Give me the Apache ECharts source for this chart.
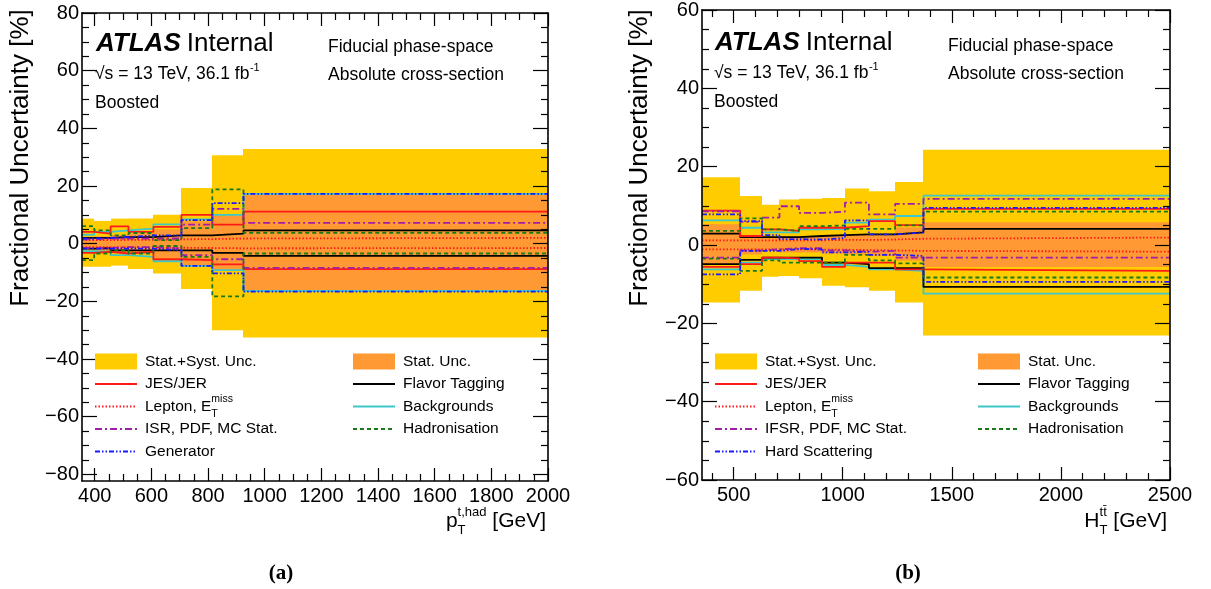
<!DOCTYPE html>
<html>
<head>
<meta charset="utf-8">
<title>Fractional uncertainties, boosted selection</title>
<script src="https://cdn.jsdelivr.net/npm/echarts@6.0.0/dist/echarts.min.js"></script>
<style>
html, body { margin: 0; padding: 0; background: #ffffff; }
#chart { width: 1211px; height: 589px; }
</style>
</head>
<body>
<div id="chart"></div>
<script>
// ---------------- panel (a): hadronic top pT ----------------
const edgesA = [355, 398, 456, 519, 607, 706, 815, 925, 2000];
const totalUpA = [8.7, 7.9, 8.7, 8.7, 10.0, 19.3, 30.7, 32.8];
const totalDownA = [-8.0, -8.0, -7.6, -8.8, -10.3, -15.7, -30.0, -32.5];
const statUpA = [2.0, 2.5, 3.0, 3.5, 5.0, 7.8, 9.8, 17.3];
const statDownA = [-2.0, -2.5, -3.0, -3.5, -5.0, -7.8, -9.2, -16.6];
const jesUpA = [4.1, 3.5, 6.0, 4.1, 5.8, 10.0, 6.6, 11.1];
const jesDownA = [-3.2, -2.8, -3.4, -2.8, -5.4, -5.7, -7.2, -8.8];
const lepUpA = [1.2, 1.2, 1.3, 1.3, 1.5, 1.6, 1.8, 2.0];
const lepDownA = [-1.2, -1.2, -1.3, -1.3, -1.4, -1.5, -1.6, -1.5];
const isrUpA = [1.5, 1.8, 1.8, 1.8, 1.8, 6.6, 12.1, 7.2];
const isrDownA = [-1.5, -1.5, -1.2, -1.2, -1.7, -4.0, -5.4, -8.4];
const genUpA = [1.8, 2.0, 2.3, 2.9, 2.9, 8.2, 14.1, 17.3];
const genDownA = [-1.7, -1.7, -1.7, -1.7, -2.3, -7.7, -10.3, -16.6];
const flavUpA = [2.0, 2.0, 2.3, 2.3, 2.9, 2.9, 3.5, 4.6];
const flavDownA = [-1.7, -1.5, -2.3, -2.3, -2.3, -2.3, -3.2, -4.2];
const bkgUpA = [3.1, 4.1, 4.6, 5.2, 6.7, 8.4, 10.0, 17.3];
const bkgDownA = [-2.6, -2.8, -4.0, -4.6, -6.1, -7.7, -9.2, -16.4];
const hadUpA = [6.1, 4.6, 2.9, 3.7, 1.2, 5.4, 18.8, 3.8];
const hadDownA = [-5.7, -3.4, -2.3, -3.4, -0.8, -4.6, -18.3, -3.4];

const xTicksA = [400, 600, 800, 1000, 1200, 1400, 1600, 1800, 2000];
const yTicksA = [-80, -60, -40, -20, 0, 20, 40, 60, 80];

// ---------------- panel (b): HT of the ttbar system ----------------
const edgesB = [355, 530, 630, 710, 800, 905, 1010, 1120, 1240, 1370, 2500];
const totalUpB = [17.3, 12.5, 10.3, 11.6, 11.8, 12.0, 14.4, 13.7, 16.1, 24.3];
const totalDownB = [-14.7, -11.7, -8.1, -7.9, -8.5, -10.4, -10.8, -11.7, -14.7, -23.1];
const statUpB = [5.3, 2.5, 2.0, 2.3, 2.3, 2.5, 2.7, 2.7, 4.5, 5.8];
const statDownB = [-4.9, -2.4, -1.5, -1.9, -1.9, -2.2, -2.4, -2.8, -4.0, -5.6];
const jesUpB = [8.8, 2.3, 4.0, 3.6, 4.4, 4.4, 4.8, 6.1, 5.1, 9.2];
const jesDownB = [-5.6, -4.9, -3.2, -3.4, -4.1, -5.6, -4.5, -4.5, -6.2, -6.6];
const lepUpB = [1.2, 1.2, 1.2, 1.2, 1.2, 1.3, 1.3, 1.4, 1.6, 1.9];
const lepDownB = [-1.1, -1.1, -1.1, -1.1, -1.2, -1.2, -1.3, -1.4, -1.5, -1.7];
const ifsrUpB = [8.6, 5.9, 7.0, 9.9, 8.2, 8.5, 10.8, 7.8, 10.5, 11.8];
const ifsrDownB = [-3.2, -1.4, -1.1, -0.8, -0.8, -1.4, -1.7, -1.5, -3.2, -3.2];
const hardUpB = [7.8, 6.1, 2.5, 1.5, 1.4, 1.8, 6.3, 2.7, 3.2, 9.5];
const hardDownB = [-7.5, -1.5, -1.5, -1.0, -1.1, -1.9, -1.7, -2.5, -2.8, -9.4];
const flavUpB = [2.9, 2.0, 2.0, 2.0, 2.3, 2.5, 2.7, 2.7, 3.2, 4.1];
const flavDownB = [-4.9, -3.8, -3.2, -3.2, -3.2, -4.5, -4.9, -5.9, -5.9, -10.7];
const bkgUpB = [6.3, 4.4, 3.2, 3.2, 4.0, 4.1, 5.7, 6.5, 7.4, 12.6];
const bkgDownB = [-6.2, -4.5, -3.6, -3.6, -3.6, -5.1, -5.6, -6.2, -6.6, -12.4];
const hadUpB = [3.6, 6.8, 4.0, 3.6, 4.8, 5.0, 4.1, 4.1, 5.0, 8.5];
const hadDownB = [-3.5, -6.6, -3.9, -4.5, -4.5, -4.5, -2.5, -3.9, -4.7, -8.3];

const xTicksB = [500, 1000, 1500, 2000, 2500];
const yTicksB = [-60, -40, -20, 0, 20, 40, 60];

// legend labels
const legendLeftA = ['Stat.+Syst. Unc.', 'JES/JER', 'Lepton, E', 'ISR, PDF, MC Stat.', 'Generator'];
const legendRightA = ['Stat. Unc.', 'Flavor Tagging', 'Backgrounds', 'Hadronisation'];
const legendLeftB = ['Stat.+Syst. Unc.', 'JES/JER', 'Lepton, E', 'IFSR, PDF, MC Stat.', 'Hard Scattering'];
const legendRightB = ['Stat. Unc.', 'Flavor Tagging', 'Backgrounds', 'Hadronisation'];

// ---------------- drawing ----------------
const FONT = '"Liberation Sans", Arial, Helvetica, sans-serif';
const SERIF = '"Liberation Serif", "DejaVu Serif", serif';

const STY = {
  total: '#ffcc00',
  stat: '#ff9933',
  jes: { color: '#ff1a1a', dash: null, z: 5 },
  lep: { color: '#ff1a1a', dash: [1.5, 2], z: 6 },
  isr: { color: '#a01ea8', dash: [7, 3, 2, 3], z: 7 },
  gen: { color: '#1a1aff', dash: [5, 2, 1.5, 2, 1.5, 2], z: 9 },
  flav: { color: '#000000', dash: null, z: 4 },
  bkg: { color: '#3cc8c8', dash: null, z: 3 },
  had: { color: '#1a7a1a', dash: [4, 3], z: 8 }
};
const LW = 1.8;

const measureCtx = document.createElement('canvas').getContext('2d');
function textWidth(str, size, weight, style) {
  measureCtx.font = (style || 'normal') + ' ' + (weight || 'normal') + ' ' + size + 'px ' + FONT;
  return measureCtx.measureText(str).width;
}

function minorTicks(from, to, step, majors) {
  const out = [];
  for (let v = from; v <= to + 1e-9; v += step) {
    const r = Math.round(v * 1000) / 1000;
    if (!majors.includes(r)) out.push(r);
  }
  return out;
}

function stepPoints(edges, vals) {
  const pts = vals.map((v, i) => [edges[i], v]);
  pts.push([edges[edges.length - 1], vals[vals.length - 1]]);
  return pts;
}

function bandSeries(name, edges, lo, hi, color, gi, z) {
  return {
    type: 'custom', name, xAxisIndex: gi * 4, yAxisIndex: gi * 4, z, silent: true, clip: true,
    data: lo.map((l, i) => [edges[i], edges[i + 1], l, hi[i]]),
    encode: { x: [0, 1], y: [2, 3] },
    renderItem(params, api) {
      const a = api.coord([api.value(0), api.value(3)]);
      const b = api.coord([api.value(1), api.value(2)]);
      const x0 = Math.round(a[0]), x1 = Math.round(b[0]);
      return { type: 'rect', shape: { x: x0, y: a[1], width: x1 - x0, height: b[1] - a[1] },
               style: { fill: color, stroke: null } };
    }
  };
}

function stepSeries(name, edges, vals, sty, gi) {
  return {
    type: 'line', name, xAxisIndex: gi * 4, yAxisIndex: gi * 4, z: sty.z,
    data: stepPoints(edges, vals), step: 'end', symbol: 'none', showSymbol: false,
    silent: true, clip: true,
    lineStyle: { color: sty.color, width: LW, type: sty.dash || 'solid', cap: 'butt' }
  };
}

function minusLabel(v) { return v < 0 ? '\u2212' + Math.abs(v) : String(v); }
function plainLabel(v) { return String(v); }

function frameAxes(gi, p) {
  const common = { gridIndex: gi, type: 'value', z: 20, splitLine: { show: false } };
  const tickStyle = { color: '#000', width: 1.2 };
  const lineStyle = { color: '#000', width: 1.6 };
  const line = show => ({ show, onZero: false, lineStyle });
  const xs = [
    Object.assign({}, common, { min: p.xMin, max: p.xMax, position: 'bottom',
      axisLine: line(true),
      axisTick: { show: true, inside: true, length: 13, customValues: p.xTicks, lineStyle: tickStyle },
      axisLabel: { show: true, customValues: p.xTicks, formatter: plainLabel, fontFamily: FONT, fontSize: 20, color: '#000', margin: 5 } }),
    Object.assign({}, common, { min: p.xMin, max: p.xMax, position: 'bottom',
      axisLine: line(false),
      axisTick: { show: true, inside: true, length: 7, customValues: p.xMinor, lineStyle: tickStyle },
      axisLabel: { show: false } }),
    Object.assign({}, common, { min: p.xMin, max: p.xMax, position: 'top',
      axisLine: line(true),
      axisTick: { show: true, inside: true, length: 13, customValues: p.xTicks, lineStyle: tickStyle },
      axisLabel: { show: false } }),
    Object.assign({}, common, { min: p.xMin, max: p.xMax, position: 'top',
      axisLine: line(false),
      axisTick: { show: true, inside: true, length: 7, customValues: p.xMinor, lineStyle: tickStyle },
      axisLabel: { show: false } })
  ];
  const ys = [
    Object.assign({}, common, { min: p.yMin, max: p.yMax, position: 'left',
      axisLine: line(true),
      axisTick: { show: true, inside: true, length: 15, customValues: p.yTicks, lineStyle: tickStyle },
      axisLabel: { show: true, customValues: p.yTicks, formatter: minusLabel, fontFamily: FONT, fontSize: 20, color: '#000', margin: 3 } }),
    Object.assign({}, common, { min: p.yMin, max: p.yMax, position: 'left',
      axisLine: line(false),
      axisTick: { show: true, inside: true, length: 7, customValues: p.yMinor, lineStyle: tickStyle },
      axisLabel: { show: false } }),
    Object.assign({}, common, { min: p.yMin, max: p.yMax, position: 'right',
      axisLine: line(true),
      axisTick: { show: true, inside: true, length: 15, customValues: p.yTicks, lineStyle: tickStyle },
      axisLabel: { show: false } }),
    Object.assign({}, common, { min: p.yMin, max: p.yMax, position: 'right',
      axisLine: line(false),
      axisTick: { show: true, inside: true, length: 7, customValues: p.yMinor, lineStyle: tickStyle },
      axisLabel: { show: false } })
  ];
  return { xs, ys };
}

function text(x, y, str, size, opts) {
  opts = opts || {};
  return {
    type: 'text', x, y, z: 50, silent: true, rotation: opts.rot || 0,
    style: {
      text: str, fill: '#000',
      font: (opts.style || 'normal') + ' ' + (opts.weight || 'normal') + ' ' + size + 'px ' + (opts.family || FONT),
      align: opts.align || 'left', verticalAlign: opts.va || 'middle'
    }
  };
}

function legendSwatch(x, yc, kind) {
  if (kind === 'total' || kind === 'stat') {
    return { type: 'rect', z: 50, silent: true, shape: { x, y: yc - 8, width: 42, height: 16 },
             style: { fill: STY[kind] } };
  }
  const s = STY[kind];
  return { type: 'line', z: 50, silent: true, shape: { x1: x, y1: yc, x2: x + 42, y2: yc },
           style: { stroke: s.color, lineWidth: LW, lineDash: s.dash } };
}

const LEG_SIZE = 15.5;
function legendColumn(x, y0, labels, kinds) {
  const els = [];
  labels.forEach((lab, i) => {
    const yc = y0 + i * 22.5;
    els.push(legendSwatch(x, yc, kinds[i]));
    els.push(text(x + 50, yc, lab, LEG_SIZE));
    if (lab === 'Lepton, E') {
      const sx = x + 50 + textWidth(lab, LEG_SIZE);
      els.push(text(sx, yc - 7, 'miss', 10.5));
      els.push(text(sx, yc + 8, 'T', 10.5));
    }
  });
  return els;
}

function atlasBlock(x, y, xInfo) {
  const els = [];
  const big = 26;
  els.push(text(x, y, 'ATLAS', big, { weight: 'bold', style: 'italic' }));
  const wA = textWidth('ATLAS', big, 'bold', 'italic');
  els.push(text(x + wA + 6, y, 'Internal', big));
  const info = 17.5;
  const rs = '\u221As = 13 TeV, 36.1 fb';
  els.push(text(x - 1, y + 30, rs, info));
  els.push(text(x - 1 + textWidth(rs, info) + 0.5, y + 24, '-1', 11));
  els.push(text(x - 1, y + 59, 'Boosted', info));
  els.push(text(xInfo, y + 3, 'Fiducial phase-space', info));
  els.push(text(xInfo, y + 31, 'Absolute cross-section', info));
  return els;
}

function xTitle(xr, yc, base, sup, sub) {
  const big = 21, small = 13;
  const tail = ' [GeV]';
  const wTail = textWidth(tail, big);
  const wScript = Math.max(textWidth(sup, small), textWidth(sub, small));
  const xs = xr - wTail;
  const xScript = xs - wScript;
  return [
    text(xr, yc, tail, big, { align: 'right' }),
    text(xScript, yc - 9, sup, small),
    text(xScript, yc + 9, sub, small),
    text(xScript, yc, base, big, { align: 'right' })
  ];
}

const panels = [
  {
    grid: { left: 82, right: 1211 - 548, top: 13, bottom: 589 - 481 },
    xMin: 355, xMax: 2000, yMin: -82.3, yMax: 80,
    xTicks: xTicksA, yTicks: yTicksA,
    xMinor: minorTicks(400, 2000, 50, xTicksA), yMinor: minorTicks(-80, 80, 5, yTicksA),
    edges: edgesA,
    bands: [['Stat.+Syst. Unc.', totalDownA, totalUpA, 'total', 1], ['Stat. Unc.', statDownA, statUpA, 'stat', 2]],
    lines: [
      ['Backgrounds', bkgUpA, bkgDownA, 'bkg'],
      ['Flavor Tagging', flavUpA, flavDownA, 'flav'],
      ['JES/JER', jesUpA, jesDownA, 'jes'],
      ['Lepton', lepUpA, lepDownA, 'lep'],
      ['ISR, PDF, MC Stat.', isrUpA, isrDownA, 'isr'],
      ['Hadronisation', hadUpA, hadDownA, 'had'],
      ['Generator', genUpA, genDownA, 'gen']
    ]
  },
  {
    grid: { left: 702, right: 1211 - 1170, top: 8, bottom: 589 - 480 },
    xMin: 355, xMax: 2500, yMin: -60, yMax: 60,
    xTicks: xTicksB, yTicks: yTicksB,
    xMinor: minorTicks(400, 2500, 100, xTicksB), yMinor: minorTicks(-60, 60, 5, yTicksB),
    edges: edgesB,
    bands: [['Stat.+Syst. Unc.', totalDownB, totalUpB, 'total', 1], ['Stat. Unc.', statDownB, statUpB, 'stat', 2]],
    lines: [
      ['Backgrounds', bkgUpB, bkgDownB, 'bkg'],
      ['Flavor Tagging', flavUpB, flavDownB, 'flav'],
      ['JES/JER', jesUpB, jesDownB, 'jes'],
      ['Lepton', lepUpB, lepDownB, 'lep'],
      ['IFSR, PDF, MC Stat.', ifsrUpB, ifsrDownB, 'isr'],
      ['Hadronisation', hadUpB, hadDownB, 'had'],
      ['Hard Scattering', hardUpB, hardDownB, 'gen']
    ]
  }
];

const grids = [], xAxes = [], yAxes = [], series = [];
panels.forEach((p, gi) => {
  grids.push(Object.assign({ show: false, containLabel: false }, p.grid));
  const ax = frameAxes(gi, p);
  xAxes.push(...ax.xs);
  yAxes.push(...ax.ys);
  p.bands.forEach(b => series.push(bandSeries(b[0], p.edges, b[1], b[2], STY[b[3]], gi, b[4])));
  p.lines.forEach(l => {
    series.push(stepSeries(l[0] + ' up', p.edges, l[1], STY[l[3]], gi));
    series.push(stepSeries(l[0] + ' down', p.edges, l[2], STY[l[3]], gi));
  });
});

const kindsLeft = ['total', 'jes', 'lep', 'isr', 'gen'];
const kindsRight = ['stat', 'flav', 'bkg', 'had'];

const graphics = [].concat(
  atlasBlock(96, 44, 328),
  atlasBlock(715, 43, 948),
  legendColumn(95, 361.5, legendLeftA, kindsLeft),
  legendColumn(353, 361.5, legendRightA, kindsRight),
  legendColumn(715, 361.5, legendLeftB, kindsLeft),
  legendColumn(978, 361.5, legendRightB, kindsRight),
  xTitle(546, 521, 'p', 't,had', 'T'),
  xTitle(1167, 521, 'H', 't\u0074\u0304', 'T'),
  [
    text(21, 158, 'Fractional Uncertainty [%]', 26, { rot: Math.PI / 2, align: 'center' }),
    text(640, 158, 'Fractional Uncertainty [%]', 26, { rot: Math.PI / 2, align: 'center' }),
    text(281, 574, '(a)', 21, { weight: 'bold', family: SERIF, align: 'center' }),
    text(908, 574, '(b)', 21, { weight: 'bold', family: SERIF, align: 'center' })
  ]
);

const chart = echarts.init(document.getElementById('chart'), null, { renderer: 'canvas' });
chart.setOption({
  animation: false,
  backgroundColor: '#ffffff',
  grid: grids,
  xAxis: xAxes,
  yAxis: yAxes,
  series,
  graphic: { elements: graphics }
});
</script>
</body>
</html>
